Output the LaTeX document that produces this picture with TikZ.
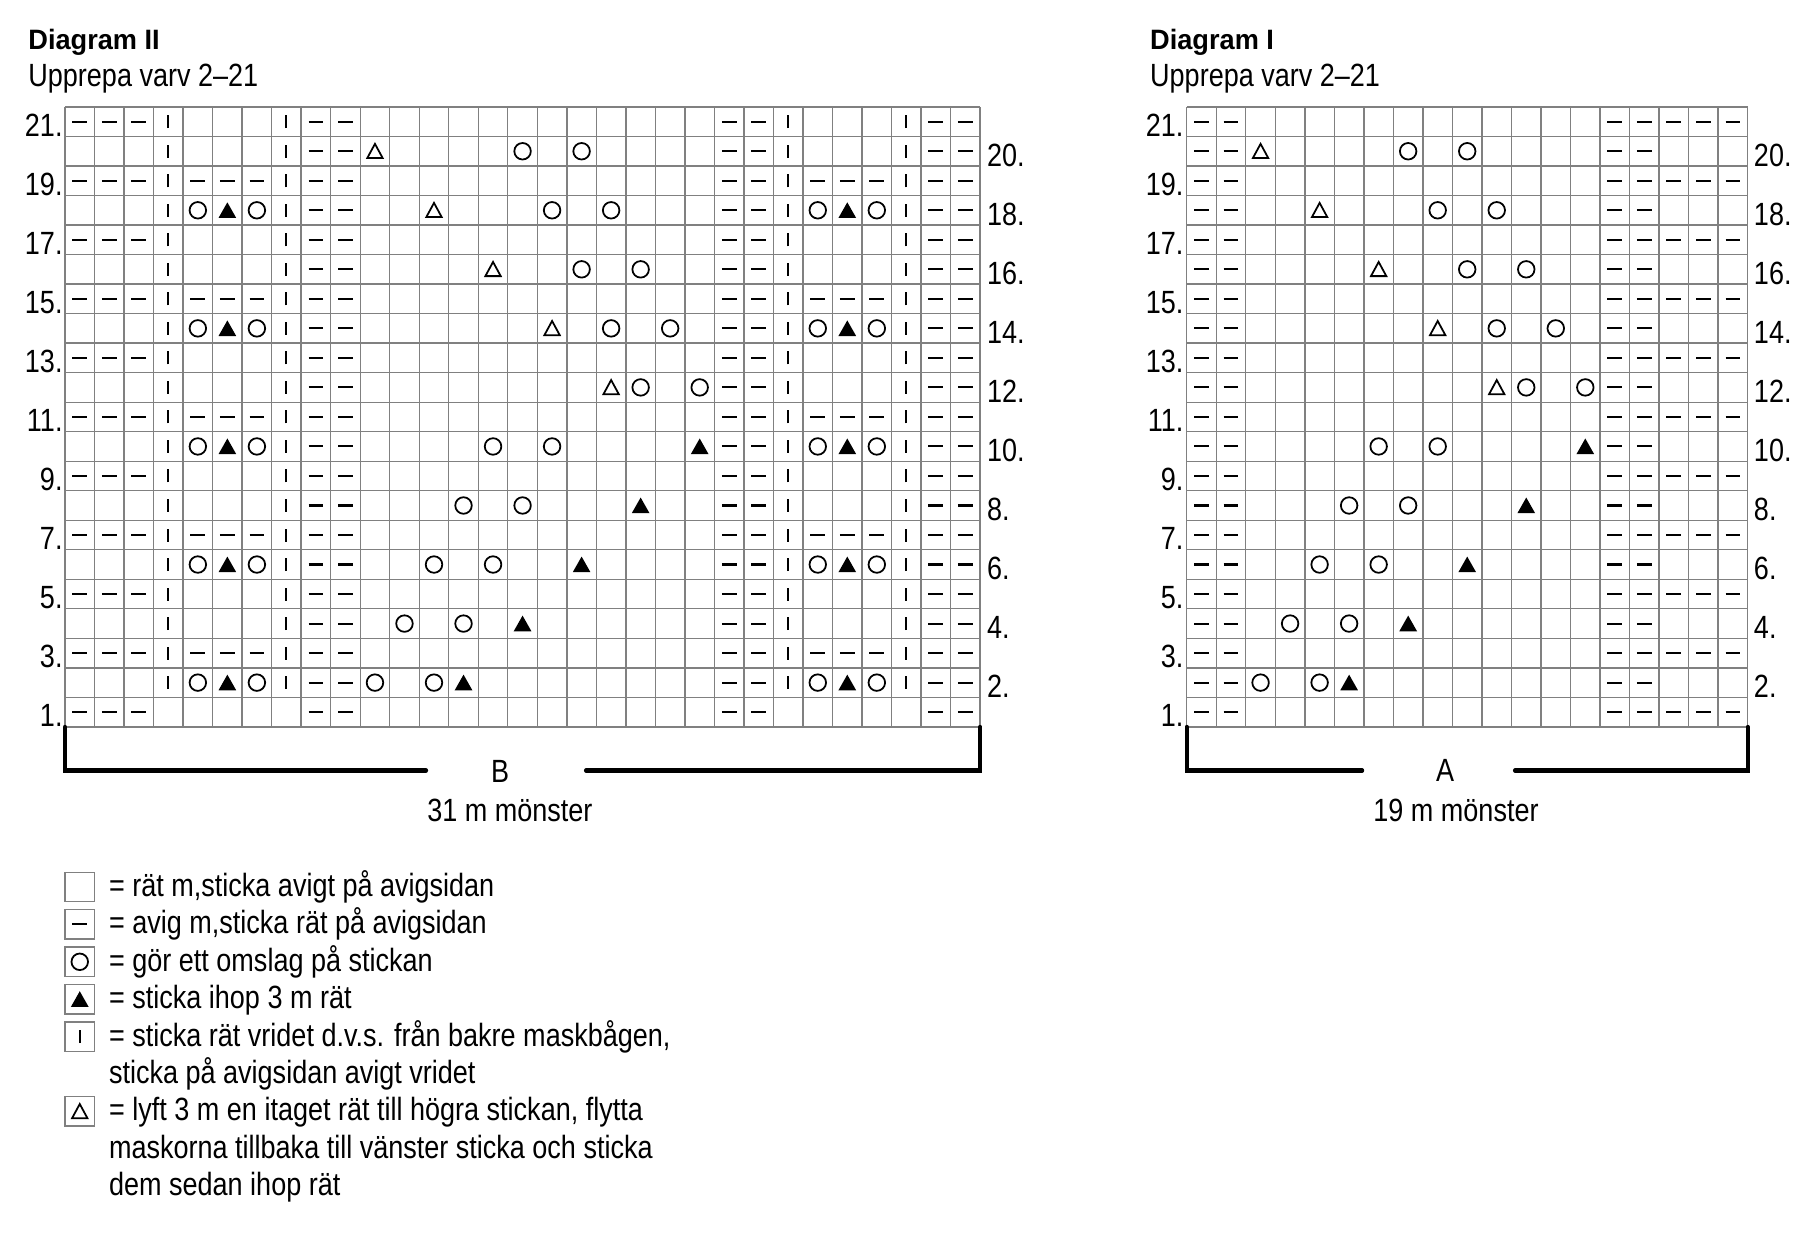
\documentclass[tikz,border=0pt]{standalone}
\usepackage{fontspec}
\setmainfont{Liberation Sans}[FakeStretch=0.84]
\newfontfamily\headFont{Liberation Sans}[FakeStretch=0.97]

% Chart symbols, centred on (#1,#2)
\newcommand{\purlSym}[2]{\draw[stitch] (#1-0.25,#2) -- (#1+0.25,#2);}
\newcommand{\twistSym}[2]{\draw[stitch] (#1,#2-0.22) -- (#1,#2+0.22);}
\newcommand{\yarnSym}[2]{\draw[yarn] (#1,#2) circle (0.28);}
\newcommand{\decSym}[2]{\fill (#1-0.3,#2-0.26) -- (#1+0.3,#2-0.26) -- (#1,#2+0.27) -- cycle;}
\newcommand{\slipSym}[2]{\draw[yarn] (#1-0.26,#2-0.23) -- (#1+0.26,#2-0.23) -- (#1,#2+0.25) -- cycle;}

\begin{document}
\begin{tikzpicture}[x=5mm,y=5mm,font=\fontsize{15.5}{18}\selectfont]
    \definecolor{gridColour}{HTML}{808080}
    \tikzset{
        gridLine/.style={draw=gridColour, line width=0.65pt},
        stitch/.style={line width=1pt},
        yarn/.style={line width=0.85pt, line join=miter},
        bracket/.style={line width=2pt, line cap=round},
        chartText/.style={inner sep=0pt},
        headText/.style={inner sep=0pt, anchor=base west, font=\headFont\bfseries\fontsize{13.5}{16}\selectfont}
    }
    \useasboundingbox (-2.202,-17.212) rectangle (59.214,24.624);

    % ---------------- Diagram II ----------------
    \node[headText] (titleII) at (-1.253,22.93) {Diagram II};
    \node[chartText, anchor=base west] (repeatII) at (-1.253,21.687) {Upprepa varv 2–21};

    % Draw grid
    \draw[gridLine, step=5mm] (0,0) grid (31,21);

    % Rib columns
    \foreach \r in {1,...,21} {
        \foreach \c in {9,10,23,24,30,31} {\purlSym{\c-0.5}{\r-0.5}}
    }
    \foreach \r in {1,3,...,21} {
        \foreach \c in {1,2,3} {\purlSym{\c-0.5}{\r-0.5}}
    }
    \foreach \r in {2,...,21} {
        \foreach \c in {4,8,25,29} {\twistSym{\c-0.5}{\r-0.5}}
    }
    \foreach \r in {3,7,11,15,19} {
        \foreach \c in {5,6,7,26,27,28} {\purlSym{\c-0.5}{\r-0.5}}
    }
    \foreach \r in {2,6,10,14,18} {
        \foreach \c in {5,26} {
            \yarnSym{\c-0.5}{\r-0.5}
            \decSym{\c+0.5}{\r-0.5}
            \yarnSym{\c+1.5}{\r-0.5}
        }
    }

    % Lace panel
    \foreach \c/\r in {11/20,13/18,15/16,17/14,19/12} {\slipSym{\c-0.5}{\r-0.5}}
    \foreach \c/\r in {16/20,18/20,17/18,19/18,18/16,20/16,19/14,21/14,20/12,22/12,
                       15/10,17/10,14/8,16/8,13/6,15/6,12/4,14/4,11/2,13/2} {\yarnSym{\c-0.5}{\r-0.5}}
    \foreach \c/\r in {22/10,20/8,18/6,16/4,14/2} {\decSym{\c-0.5}{\r-0.5}}

    % Row numbers
    \foreach \r in {1,3,...,21}
        \node[chartText, anchor=base east] (rowIIleft\r) at (-0.07,\r-1) {\r.};
    \foreach \r in {2,4,...,20}
        \node[chartText, anchor=base west] (rowIIright\r) at (31.22,\r-1) {\r.};

    % Pattern bracket
    \coordinate (bLeftEnd) at (12.23,-1.477);
    \coordinate (bRightEnd) at (17.65,-1.477);
    \draw[bracket] (bLeftEnd) -- (0,-1.477) -- (0,0);
    \draw[bracket] (bRightEnd) -- (31,-1.477) -- (31,0);
    \node[chartText, anchor=base] (markB) at (14.74,-1.87) {B};
    \node[chartText, anchor=base] (countB) at (15.07,-3.22) {31 m mönster};

    % ---------------- Diagram I ----------------
    \begin{scope}[xshift=19cm]
        \node[headText] (titleI) at (-1.253,22.93) {Diagram I};
        \node[chartText, anchor=base west] (repeatI) at (-1.253,21.687) {Upprepa varv 2–21};

        % Draw grid
        \draw[gridLine, step=5mm] (0,0) grid (19,21);

        % Edge columns
        \foreach \r in {1,...,21} {
            \foreach \c in {1,2,15,16} {\purlSym{\c-0.5}{\r-0.5}}
        }
        \foreach \r in {1,3,...,21} {
            \foreach \c in {17,18,19} {\purlSym{\c-0.5}{\r-0.5}}
        }

        % Lace panel
        \foreach \c/\r in {3/20,5/18,7/16,9/14,11/12} {\slipSym{\c-0.5}{\r-0.5}}
        \foreach \c/\r in {8/20,10/20,9/18,11/18,10/16,12/16,11/14,13/14,12/12,14/12,
                           7/10,9/10,6/8,8/8,5/6,7/6,4/4,6/4,3/2,5/2} {\yarnSym{\c-0.5}{\r-0.5}}
        \foreach \c/\r in {14/10,12/8,10/6,8/4,6/2} {\decSym{\c-0.5}{\r-0.5}}

        % Row numbers
        \foreach \r in {1,3,...,21}
            \node[chartText, anchor=base east] (rowIleft\r) at (-0.1,\r-1) {\r.};
        \foreach \r in {2,4,...,20}
            \node[chartText, anchor=base west] (rowIright\r) at (19.2,\r-1) {\r.};

        % Pattern bracket
        \coordinate (aLeftEnd) at (5.94,-1.477);
        \coordinate (aRightEnd) at (11.12,-1.477);
        \draw[bracket] (aLeftEnd) -- (0,-1.477) -- (0,0);
        \draw[bracket] (aRightEnd) -- (19,-1.477) -- (19,0);
        \node[chartText, anchor=base] (markA) at (8.75,-1.86) {A};
        \node[chartText, anchor=base] (countA) at (9.12,-3.2) {19 m mönster};
    \end{scope}

    % ---------------- Legend ----------------
    \foreach \k in {0,1,2,3,4,6}
        \draw[gridLine] (0,-5.423-1.267*\k-0.5) rectangle ++(1,1);
    \purlSym{0.5}{-6.690}
    \yarnSym{0.5}{-7.957}
    \decSym{0.5}{-9.224}
    \twistSym{0.5}{-10.491}
    \slipSym{0.5}{-13.025}

    \node[chartText, anchor=base west] (legKnit) at (1.48,-5.745) {= rät m,sticka avigt på avigsidan};
    \node[chartText, anchor=base west] (legPurl) at (1.48,-7.012) {= avig m,sticka rät på avigsidan};
    \node[chartText, anchor=base west] (legYarn) at (1.48,-8.279) {= gör ett omslag på stickan};
    \node[chartText, anchor=base west] (legDec) at (1.48,-9.546) {= sticka ihop 3 m rät};
    \node[chartText, anchor=base west] (legTwist) at (1.48,-10.813) {= sticka rät vridet d.v.s. från bakre maskbågen,};
    \node[chartText, anchor=base west] (legTwistB) at (1.48,-12.080) {sticka på avigsidan avigt vridet};
    \node[chartText, anchor=base west] (legSlip) at (1.48,-13.347) {= lyft 3 m en itaget rät till högra stickan, flytta};
    \node[chartText, anchor=base west] (legSlipB) at (1.48,-14.614) {maskorna tillbaka till vänster sticka och sticka};
    \node[chartText, anchor=base west] (legSlipC) at (1.48,-15.881) {dem sedan ihop rät};
\end{tikzpicture}
\end{document}
